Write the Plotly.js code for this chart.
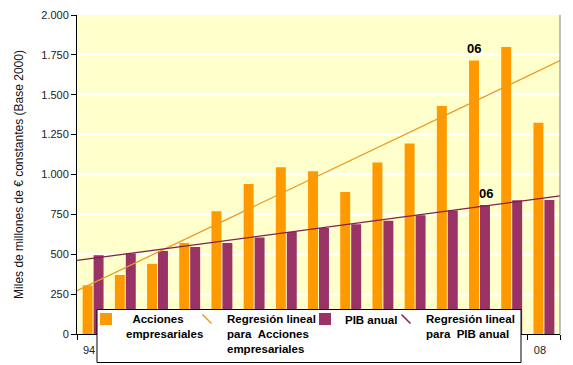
<!DOCTYPE html>
<html><head><meta charset="utf-8">
<script src="https://cdn.plot.ly/plotly-3.0.1.min.js"></script>
<style>html,body{margin:0;padding:0;background:#fff;}#chart{width:573px;height:365px;}</style>
</head><body><div id="chart"></div>
<script>
// ---- data ----
const years = [1994,1995,1996,1997,1998,1999,2000,2001,2002,2003,2004,2005,2006,2007,2008];
const yearLabels = ['94','','','','','','','','','','','','','','08'];
const acciones = [305,370,440,570,770,940,1045,1020,890,1075,1195,1430,1715,1800,1325];
const pib = [494,505,521,545,571,605,640,665,688,710,745,774,809,838,840];
const nameAcciones = '\u00a0\u00a0Acciones<br>empresariales';
const nameRegAcciones = 'Regresión lineal<br>para\u00a0\u00a0Acciones<br>empresariales';
const namePib = 'PIB anual';
const nameRegPib = 'Regresión lineal<br>para\u00a0\u00a0PIB anual';
const highlightYear = 2006;
const highlightLabel = '06';
const yTitle = 'Miles de millones de € constantes (Base 2000)';

// ---- helpers ----
function linFit(xs, ys) {
  const n = xs.length;
  const mx = xs.reduce((a,b)=>a+b,0)/n, my = ys.reduce((a,b)=>a+b,0)/n;
  let sxy = 0, sxx = 0;
  for (let i=0;i<n;i++){ sxy += (xs[i]-mx)*(ys[i]-my); sxx += (xs[i]-mx)**2; }
  const b = sxy/sxx, a = my - b*mx;
  return x => a + b*x;
}
const xStart = years[0]-0.5, xEnd = years[years.length-1]+0.5;
const fA = linFit(years, acciones), fP = linFit(years, pib);
const boundaries = years.map(y=>y-0.5).concat([xEnd]);

const ORANGE = '#FF9900', PURPLE = '#993366';
const REG_OR = '#EB9A1F', REG_PU = '#80204F';
const FONT = 'Liberation Sans, Arial, sans-serif';
const legFont = {family: FONT, size: 11.5, color: '#000', weight: 'bold'};

// pixel helpers for layout placement (plot area 77..560 x 15..334)
const PL = 77, PR = 560, PT = 15, PB = 334;
const px = v => (v - PL)/(PR - PL);
const py = v => (PB - v)/(PB - PT);

const traces = [
  {type:'bar', x: years, y: acciones, name: nameAcciones, marker:{color: ORANGE}, legend:'legend'},
  {type:'bar', x: years, y: pib, name: namePib, marker:{color: PURPLE}, legend:'legend3'},
  {type:'scatter', mode:'lines', x:[xStart, xEnd], y:[fA(xStart), fA(xEnd)], line:{color: REG_OR, width:1.3}, showlegend:false, hoverinfo:'skip'},
  {type:'scatter', mode:'lines', x:[xStart, xEnd], y:[fP(xStart), fP(xEnd)], line:{color: REG_PU, width:1.3}, showlegend:false, hoverinfo:'skip'},
  {type:'scatter', mode:'markers', x:[null], y:[null], name: nameRegAcciones, legend:'legend2',
    marker:{symbol:'line-nw', size:9, color: REG_OR, line:{color: REG_OR, width:1.5}}},
  {type:'scatter', mode:'markers', x:[null], y:[null], name: nameRegPib, legend:'legend4',
    marker:{symbol:'line-nw', size:9, color: REG_PU, line:{color: REG_PU, width:1.5}}}
];

const hi = years.indexOf(highlightYear);
const legBase = {bgcolor:'rgba(0,0,0,0)', borderwidth:0, font: legFont, xanchor:'left', yanchor:'top', valign:'top', y: py(305)};

const layout = {
  width: 573, height: 365,
  margin: {l: PL, r: 573-PR, t: PT, b: 365-PB, autoexpand: false},
  paper_bgcolor: '#fff', plot_bgcolor: '#FFFFCC',
  separators: ',.',
  barmode: 'group', bargap: 0.32, bargroupgap: 0.09,
  font: {family: FONT, size: 11, color: '#000'},
  xaxis: {
    range: [xStart, xEnd], tickmode:'array', tickvals: years, ticktext: yearLabels,
    ticks:'outside', ticklen:0, showgrid:false, zeroline:false,
    showline:true, linecolor:'#000', linewidth:1, ticklabelshift:-4, ticklabelstandoff:6,
    tickfont:{family: FONT, size: 11, color:'#222'},
    minor:{tickmode:'array', tickvals: boundaries, ticks:'outside', ticklen:5, tickcolor:'#000', showgrid:false}
  },
  yaxis: {
    range: [0, 2000], tickmode:'linear', tick0:0, dtick:250, tickformat:',d',
    ticks:'outside', ticklen:5, tickcolor:'#000',
    showgrid:true, gridcolor:'#FFFFFF', gridwidth:3, zeroline:false,
    showline:true, linecolor:'#000', linewidth:1,
    tickfont:{family: FONT, size: 11, color:'#222'},
    title:{text: yTitle, font:{family: FONT, size: 12, color:'#111'}, standoff: 15}
  },
  showlegend: true,
  legend:  Object.assign({}, legBase, {x: px(86)}),
  legend2: Object.assign({}, legBase, {x: px(187)}),
  legend3: Object.assign({}, legBase, {x: px(305)}),
  legend4: Object.assign({}, legBase, {x: px(386)}),
  shapes: [
    {type:'line', xref:'paper', yref:'paper', x0:1, x1:1, y0:0, y1:1, line:{color:'#808080', width:1}},
    {type:'rect', xref:'paper', yref:'paper', layer:'above', x0:px(97), x1:px(521), y0:py(362.5), y1:py(309.5),
      fillcolor:'#FFFFFF', line:{color:'#000', width:1}}
  ],
  annotations: [
    {x: highlightYear, y: acciones[hi], xref:'x', yref:'y', text: highlightLabel, showarrow:false,
      xanchor:'center', yanchor:'bottom', xshift:-6, yshift:2, font:{family: FONT, size: 13, weight:'bold', color:'#000'}},
    {x: highlightYear, y: pib[hi], xref:'x', yref:'y', text: highlightLabel, showarrow:false,
      xanchor:'center', yanchor:'bottom', xshift:6, yshift:2, font:{family: FONT, size: 13, weight:'bold', color:'#000'}}
  ]
};

Plotly.newPlot('chart', traces, layout, {staticPlot:true, displayModeBar:false});
</script></body></html>
